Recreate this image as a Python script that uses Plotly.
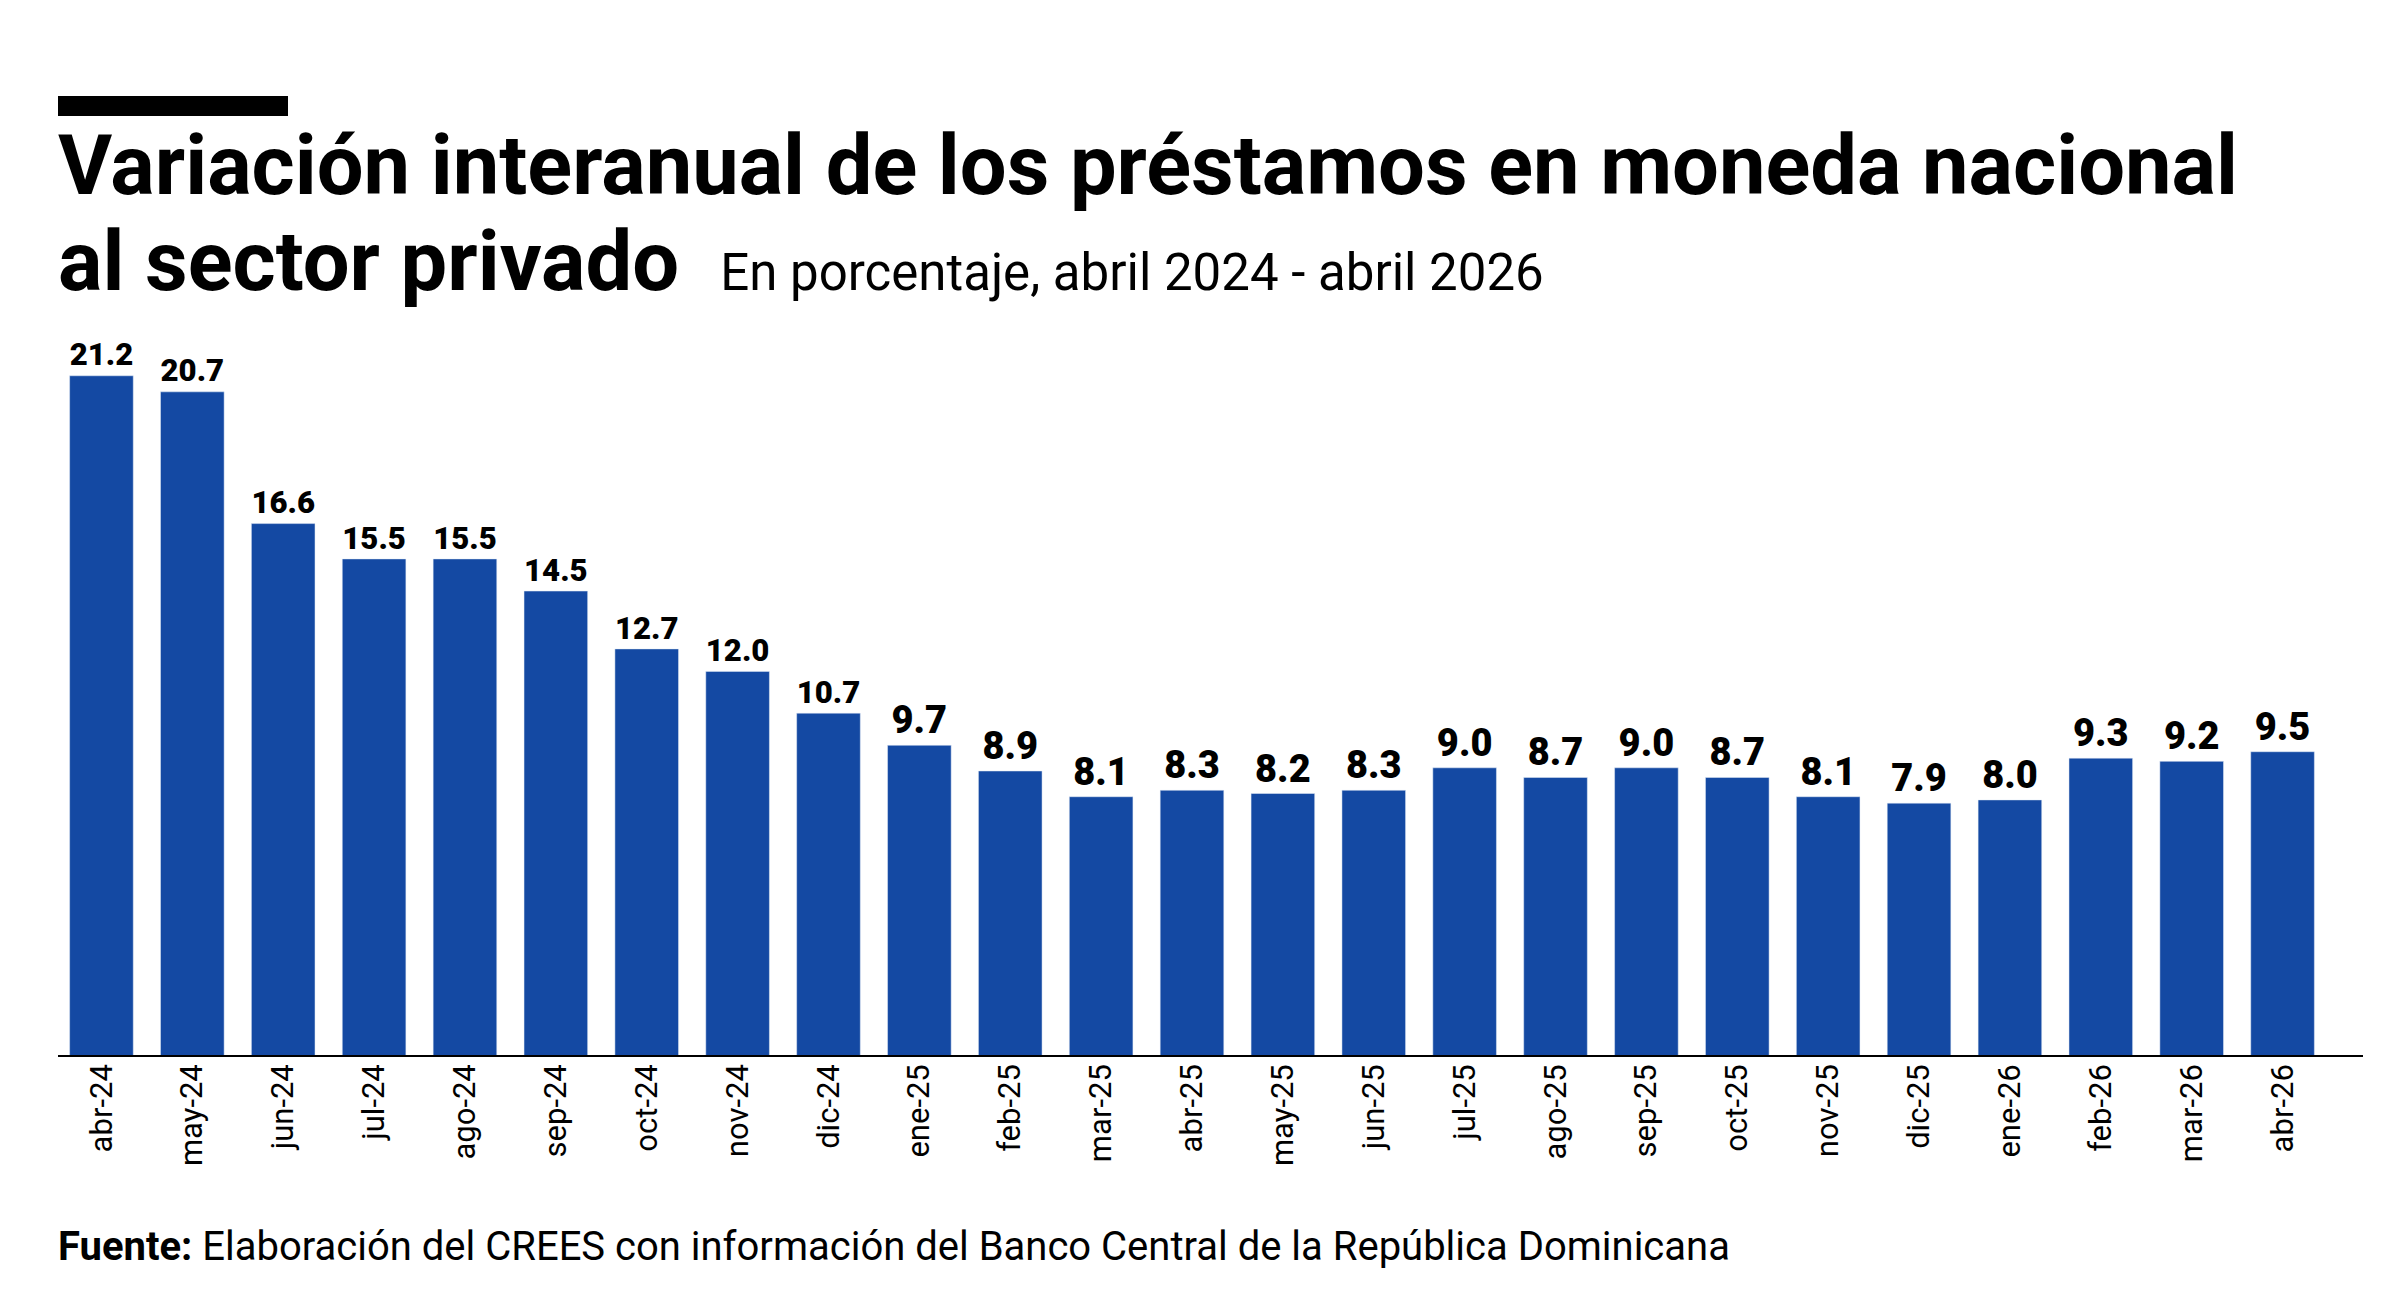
import plotly.graph_objects as go

meses = ["abr-24", "may-24", "jun-24", "jul-24", "ago-24", "sep-24", "oct-24", "nov-24",
         "dic-24", "ene-25", "feb-25", "mar-25", "abr-25", "may-25", "jun-25", "jul-25",
         "ago-25", "sep-25", "oct-25", "nov-25", "dic-25", "ene-26", "feb-26", "mar-26", "abr-26"]
variacion = [21.2, 20.7, 16.6, 15.5, 15.5, 14.5, 12.7, 12.0, 10.7, 9.7, 8.9, 8.1, 8.3,
             8.2, 8.3, 9.0, 8.7, 9.0, 8.7, 8.1, 7.9, 8.0, 9.3, 9.2, 9.5]

L, R, T, B = 48, 80, 326, 258
PW, PH = 2400 - L - R, 1307 - T - B

fig = go.Figure(go.Bar(
    x=meses, y=variacion, width=0.7,
    marker_color="#1449A3",
    text=[f"{v:.1f}" for v in variacion], textposition="outside",
    textfont=dict(family="Roboto", size=38, color="black", weight=900),
    cliponaxis=False,
))

fig.update_layout(
    width=2400, height=1307,
    paper_bgcolor="white", plot_bgcolor="white",
    margin=dict(l=L, r=R, t=T, b=B),
    showlegend=False,
)
fig.update_xaxes(
    tickangle=-90, ticks="", showgrid=False, showline=False,
    tickfont=dict(family="Roboto", size=31, color="black"),
)
fig.update_yaxes(range=[0, 22.5], visible=False)


def px(x):
    return (x - L) / PW


def py(y):
    return (1307 - B - y) / PH


# axis line, slightly wider than the plot area
fig.add_shape(type="line", xref="paper", yref="y", x0=px(50), x1=px(2355), y0=0, y1=0,
              line=dict(color="black", width=4))
# black bar above the title
fig.add_shape(type="rect", xref="paper", yref="paper",
              x0=px(50), x1=px(280), y0=py(108), y1=py(88),
              fillcolor="black", line_width=0)

anots = [
    dict(x=48, y=158, text="<b>Variación interanual de los préstamos en moneda nacional</b>", size=83),
    dict(x=48, y=254, text="<b>al sector privado</b>  <span style='font-weight:normal;font-size:51px'>En porcentaje, abril 2024 - abril 2026</span>", size=83),
    dict(x=48, y=1238, text="<b>Fuente:</b> Elaboración del CREES con información del Banco Central de la República Dominicana", size=40),
]
for a in anots:
    fig.add_annotation(
        xref="paper", yref="paper", x=px(a["x"]), y=py(a["y"]),
        xanchor="left", yanchor="middle", showarrow=False, align="left",
        text=a["text"], font=dict(family="Roboto", size=a["size"], color="black"),
    )

fig.write_html("out.html")
